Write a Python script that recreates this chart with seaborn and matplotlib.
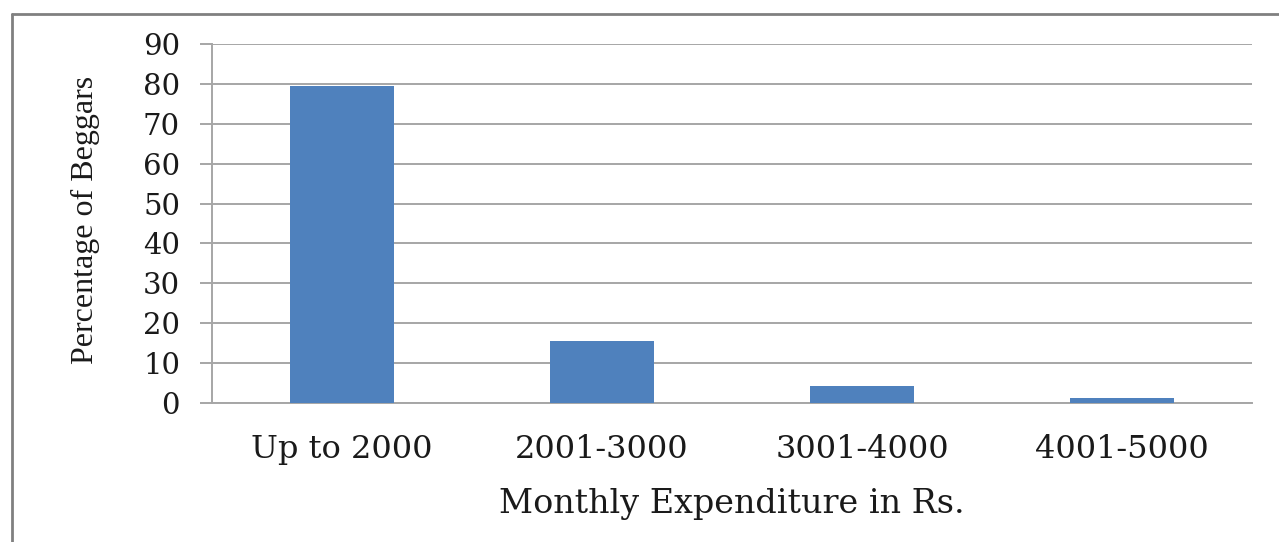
import matplotlib
matplotlib.use("Agg")
import matplotlib.pyplot as plt
from matplotlib.lines import Line2D
import seaborn as sns
import pandas as pd

# Share of beggars by monthly expenditure band
categories = ["Up to 2000", "2001-3000", "3001-4000", "4001-5000"]
percentages = [79.5, 15.5, 4.3, 1.3]
y_ticks = [0, 10, 20, 30, 40, 50, 60, 70, 80, 90]

df = pd.DataFrame({"band": categories, "pct": percentages})

sns.set_theme(style="white")
plt.rcParams["font.family"] = ["DejaVu Serif"]

fig = plt.figure(figsize=(12.79, 5.42), dpi=100)
ax = fig.add_axes([0.1658, 0.2565, 0.8131, 0.6624])

sns.barplot(data=df, x="band", y="pct", color="#4F81BD", saturation=1,
            width=0.40, linewidth=0, ax=ax, zorder=3)

ax.set_xlim(-0.5, 3.5)
ax.set_ylim(0, 90)
ax.set_yticks(y_ticks)
ax.set_yticklabels([str(v) for v in y_ticks], fontsize=21, color="#1a1a1a")
ax.set_xticks(range(len(categories)))
ax.set_xticklabels(categories, fontsize=23, color="#1a1a1a")

grid_col = "#A6A6A6"
ax.yaxis.grid(True, color=grid_col, linewidth=1.4, zorder=0)
ax.set_axisbelow(True)
for side in ("top", "right"):
    ax.spines[side].set_visible(False)
ax.spines["left"].set_color(grid_col)
ax.spines["left"].set_linewidth(1.4)
ax.spines["bottom"].set_color(grid_col)
ax.spines["bottom"].set_linewidth(1.4)

ax.tick_params(axis="y", which="major", left=True, length=9, width=1.4,
               color=grid_col, pad=14)
ax.tick_params(axis="x", which="major", bottom=False, pad=16)

ax.set_xlabel("Monthly Expenditure in Rs.", fontsize=24, color="#1a1a1a")
ax.set_ylabel("Percentage of Beggars", fontsize=23, color="#1a1a1a",
              family="Liberation Serif")
ax.xaxis.set_label_coords(0.5, -0.238)
ax.yaxis.set_label_coords(-0.108, 0.51)

# Chart frame around the figure
frame_col = "#808080"
fig.add_artist(Line2D([0.0094, 0.0094], [0.0, 0.974], transform=fig.transFigure,
                      color=frame_col, linewidth=2))
fig.add_artist(Line2D([0.0094, 1.0], [0.974, 0.974], transform=fig.transFigure,
                      color=frame_col, linewidth=2))

fig.savefig("out.png", dpi=100)
